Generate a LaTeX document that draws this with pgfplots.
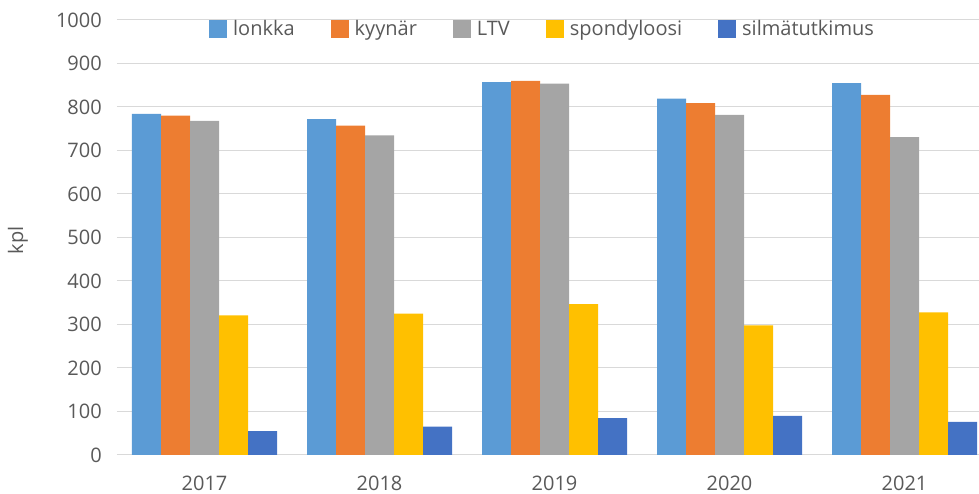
\documentclass[border=0pt]{standalone}
\usepackage{fontspec}
\setmainfont{Open Sans}
\usepackage{pgfplots}
\pgfplotsset{compat=1.18}
\definecolor{cA}{HTML}{5B9BD5}
\definecolor{cB}{HTML}{ED7D31}
\definecolor{cC}{HTML}{A5A5A5}
\definecolor{cD}{HTML}{FFC000}
\definecolor{cE}{HTML}{4472C4}
\definecolor{txt}{HTML}{595959}
\definecolor{grid}{HTML}{D9D9D9}
\newcommand{\f}{\fontsize{20}{24}\selectfont}
\begin{document}
\begin{tikzpicture}
\useasboundingbox (-117pt,-39pt) rectangle (862pt,455pt);
\begin{axis}[
  at={(0,0)}, anchor=south west,
  scale only axis, width=862pt, height=435pt,
  xmin=-0.5, xmax=4.4257, ymin=0, ymax=1000,
  ybar=0pt, bar width=29pt,
  xtick={0,1,2,3,4}, xticklabels={2017,2018,2019,2020,2021},
  ytick={0,100,...,1000},
  major tick length=0pt,
  axis line style={draw=none},
  axis x line*=bottom,
  x axis line style={draw=grid, line width=1pt},
  ymajorgrids, grid style={draw=grid, line width=1pt},
  /pgf/number format/assume math mode=true,
  /pgf/number format/1000 sep={},
  tick label style={font=\f, text=txt, inner sep=0pt},
  yticklabel style={anchor=east, xshift=-15pt},
  xticklabel style={anchor=north, yshift=-21pt},
  ylabel={kpl}, ylabel style={font=\f, text=txt, at={(axis description cs:-0.1148,0.494)}, anchor=center, rotate=0},
  legend columns=-1,
  legend image code/.code={\path[#1,draw=none] (0pt,-9pt) rectangle (18pt,9pt);},
  legend style={draw=none, fill=none, font=\f, text=txt, inner sep=0pt,
    at={(axis description cs:0.1067,0.9793)}, anchor=west,
    nodes={inner sep=0pt},
    /tikz/every odd column/.append style={column sep=6pt},
    /tikz/every even column/.append style={column sep=36pt}},
]
\addplot[fill=cA, draw=none, bar shift=-58pt] coordinates {(0,784) (1,772) (2,857) (3,819) (4,855)};
\addplot[fill=cB, draw=none, bar shift=-29pt] coordinates {(0,780) (1,757) (2,860) (3,809) (4,828)};
\addplot[fill=cC, draw=none, bar shift=0pt] coordinates {(0,768) (1,735) (2,854) (3,782) (4,731)};
\addplot[fill=cD, draw=none, bar shift=29pt] coordinates {(0,321) (1,325) (2,347) (3,298) (4,328)};
\addplot[fill=cE, draw=none, bar shift=58pt] coordinates {(0,55) (1,65) (2,85) (3,90) (4,76)};
\legend{lonkka, kyynär, LTV, spondyloosi, silmätutkimus}
\end{axis}
\end{tikzpicture}
\end{document}
